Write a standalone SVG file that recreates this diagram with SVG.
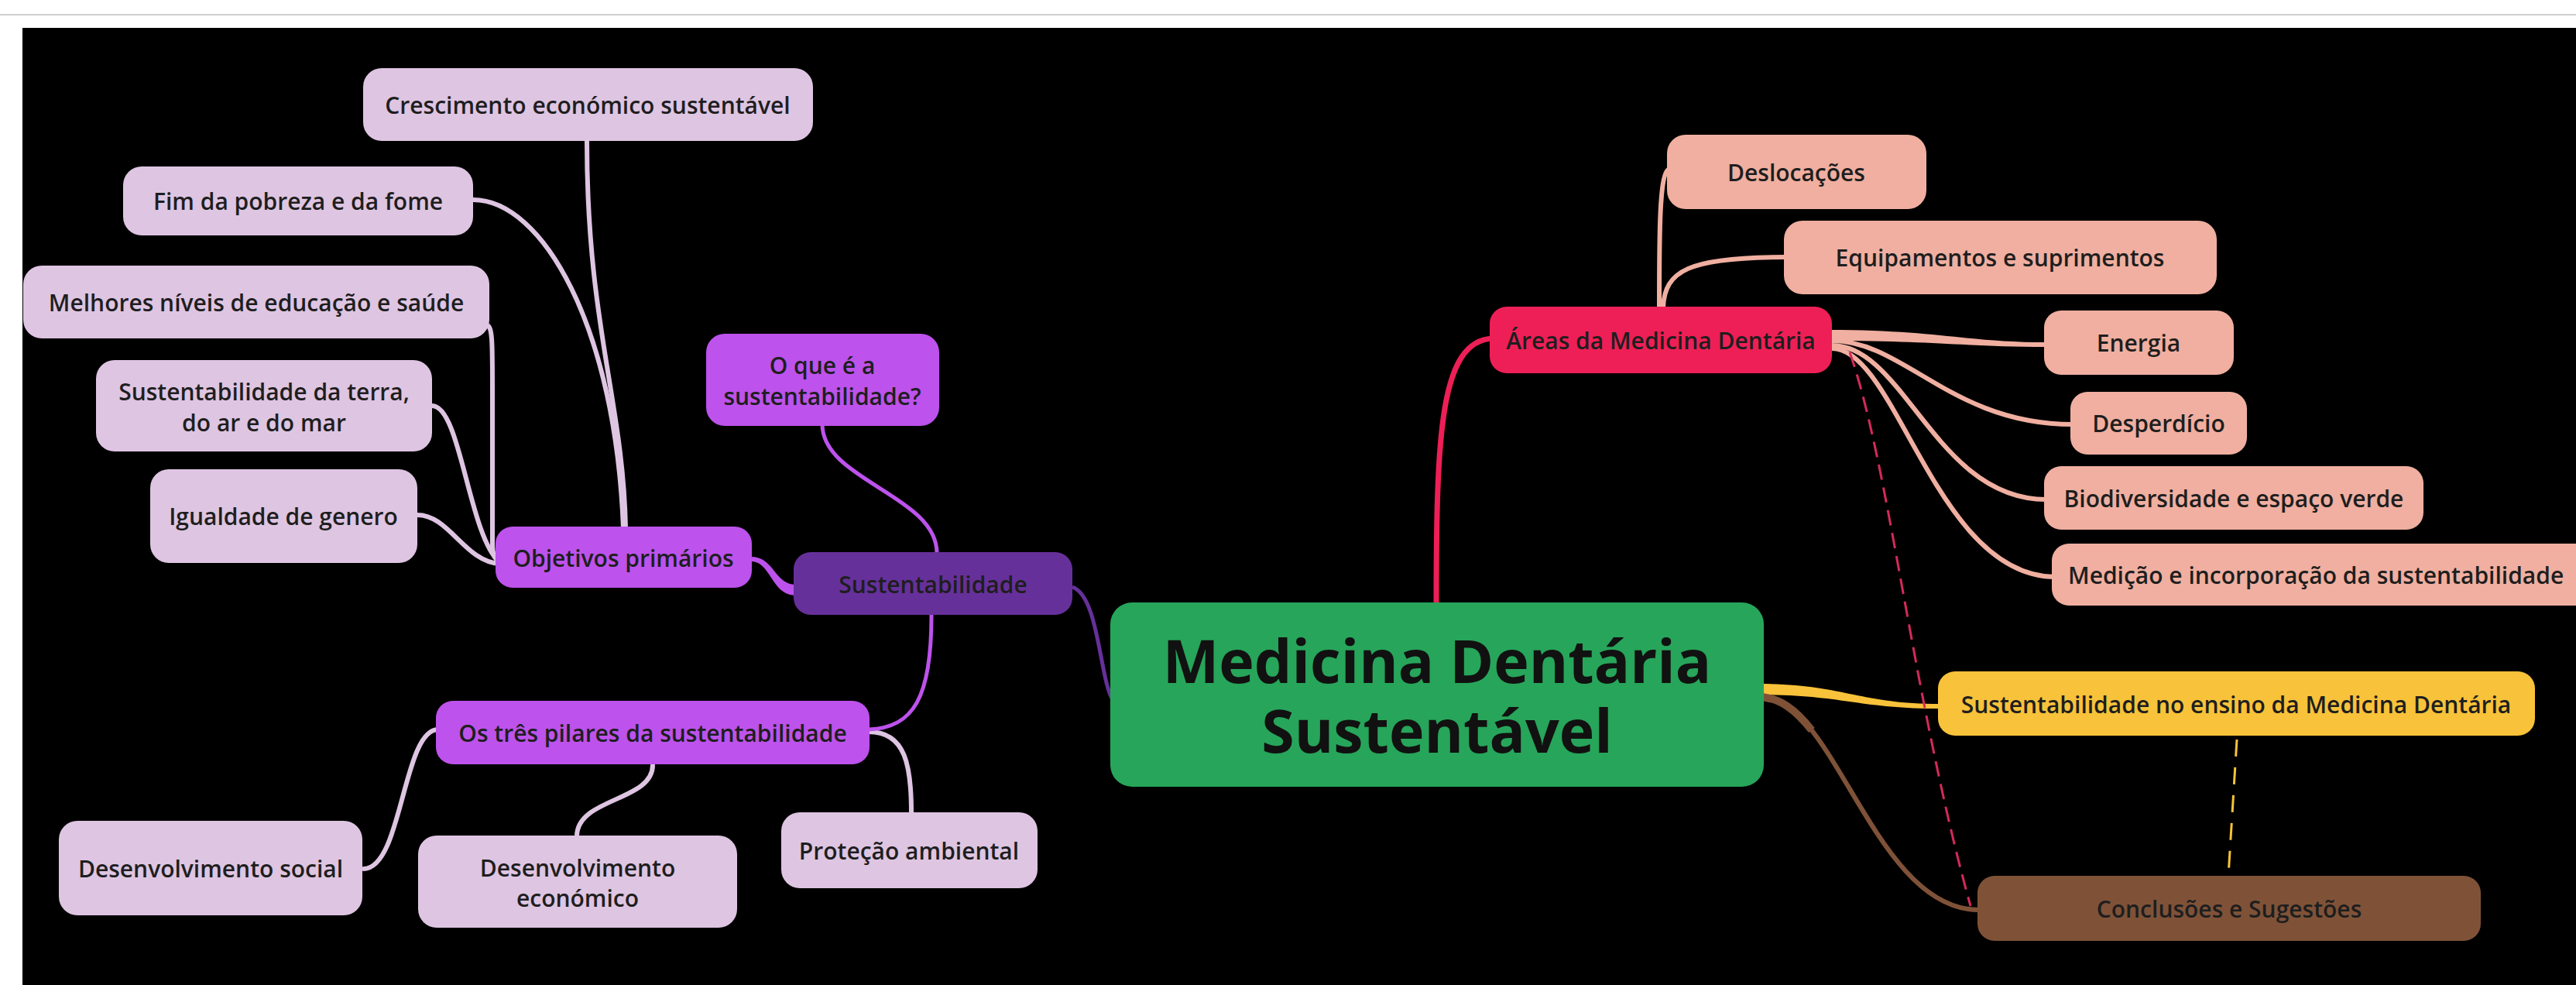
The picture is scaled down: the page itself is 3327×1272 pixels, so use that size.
<svg xmlns="http://www.w3.org/2000/svg" width="3327" height="1272" viewBox="0 0 3327 1272">
<defs>
<style>
.t{font-family:"Open Sans","Noto Sans","Liberation Sans",sans-serif;font-weight:600;font-size:30px;fill:#1e1e1e;text-anchor:middle;dominant-baseline:central}
.title{font-family:"Open Sans","Noto Sans","Liberation Sans",sans-serif;font-weight:700;font-size:77px;fill:#111;text-anchor:middle}
.lilac{fill:#dec5e2}
.purple{fill:#bd52ec}
.dpurple{fill:#66309a}
.green{fill:#27a55a}
.red{fill:#ee1f56}
.salmon{fill:#f0afa0}
.yellow{fill:#f8c23a}
.brown{fill:#7f5238}
.cl{fill:none;stroke:#dec5e2;stroke-width:6;stroke-linecap:round}
.cs{fill:none;stroke:#f0afa0;stroke-width:6;stroke-linecap:round}
.cp{fill:none;stroke:#bd52ec;stroke-width:5;stroke-linecap:round}
</style>
</defs>
<rect x="0" y="0" width="3327" height="1272" fill="#ffffff"/>
<line x1="0" y1="19" x2="3327" y2="19" stroke="#cfcfcf" stroke-width="2"/>
<rect x="29" y="36" width="3298" height="1236" fill="#000000"/>

<g id="connectors">
<!-- Objetivos children -->
<path class="cl" d="M758,182 C758,420 805,520 808,682"/>
<path class="cl" d="M611,258 C700,258 795,420 805,682"/>
<path class="cl" d="M628,420 C636,420 636,440 636,500 L636,700 C636,715 638,722 645,724"/>
<path class="cl" d="M558,524 C595,524 605,690 645,726"/>
<path class="cl" d="M539,665 C580,665 600,725 645,728"/>
<!-- Pilares children -->
<path class="cl" d="M566,942 C520,942 520,1120 470,1122"/>
<path class="cl" d="M843,988 C843,1035 745,1030 745,1080"/>
<path class="cl" d="M1122,945 C1170,945 1177,990 1177,1049"/>
<!-- Sustentabilidade children -->
<path class="cp" d="M1062,548 C1062,620 1210,640 1210,714"/>
<path class="cp" d="M1203,795 C1203,900 1180,940 1122,942"/>
<path class="purple" d="M1028,755 C1000,755 1000,719 970,719 L970,725 C996,725 996,769 1028,769 Z"/>
<path class="cp" d="M1028,762 C1000,762 1000,722 970,722"/>
<!-- Central to Sustentabilidade -->
<path fill="none" stroke="#66309a" stroke-width="5" d="M1385,758 C1420,770 1420,880 1438,905"/>
<!-- Central to Areas -->
<path fill="none" stroke="#ee1f56" stroke-width="7" d="M1855,782 C1855,560 1860,440 1928,437"/>
<!-- Areas children -->
<path class="cs" d="M2143,398 C2143,300 2143,222 2156,218"/>
<path class="cs" d="M2148,397 C2150,350 2180,332 2305,332"/>
<path class="salmon" d="M2362,426 C2500,426 2540,442 2643,442 L2643,448 C2540,448 2500,440 2362,440 Z"/>
<path class="cs" d="M2366,440 C2460,440 2520,548 2677,548"/>
<path class="cs" d="M2366,446 C2460,446 2500,645 2643,645"/>
<path class="cs" d="M2366,450 C2450,450 2500,745 2655,745"/>
<!-- Central to ensino -->
<path class="yellow" d="M2270,883 C2380,883 2400,909 2505,909 L2505,915 C2400,915 2380,897 2270,897 Z"/>
<!-- Central to conclusoes -->
<path fill="none" stroke="#7f5238" stroke-width="6" d="M2275,900 C2370,900 2420,1175 2556,1175"/>
<path fill="none" stroke="#7f5238" stroke-width="10" d="M2270,900 C2298.75,900 2319.7,917.2 2339.9,943"/>
<!-- dashed relations -->
<path fill="none" stroke="#d42a5a" stroke-width="3" stroke-dasharray="20 10" d="M2389,455 C2440,600 2470,900 2545,1170"/>
<path fill="none" stroke="#f8c23a" stroke-width="3" stroke-dasharray="22 14" d="M2889,955 L2878,1131"/>
</g>

<g id="n-crescimento"><rect class="lilac" x="469" y="88" width="581" height="94" rx="24"/><text class="t" x="759" y="135">Crescimento económico sustentável</text></g>
<g id="n-pobreza"><rect class="lilac" x="159" y="215" width="452" height="89" rx="24"/><text class="t" x="385" y="259">Fim da pobreza e da fome</text></g>
<g id="n-melhores"><rect class="lilac" x="30" y="343" width="602" height="94" rx="24"/><text class="t" x="331" y="390">Melhores níveis de educação e saúde</text></g>
<g id="n-terra"><rect class="lilac" x="124" y="465" width="434" height="118" rx="24"/><text class="t" x="341" y="505">Sustentabilidade da terra,</text><text class="t" x="341" y="545">do ar e do mar</text></g>
<g id="n-igualdade"><rect class="lilac" x="194" y="606" width="345" height="121" rx="24"/><text class="t" x="366" y="666">Igualdade de genero</text></g>
<g id="n-objetivos"><rect class="purple" x="640" y="680" width="331" height="79" rx="22"/><text class="t" x="805" y="720">Objetivos primários</text></g>
<g id="n-oque"><rect class="purple" x="912" y="431" width="301" height="119" rx="24"/><text class="t" x="1062" y="471">O que é a</text><text class="t" x="1062" y="511">sustentabilidade?</text></g>
<g id="n-sust"><rect class="dpurple" x="1025" y="713" width="360" height="81" rx="22"/><text class="t" x="1205" y="754">Sustentabilidade</text></g>
<g id="n-pilares"><rect class="purple" x="563" y="905" width="560" height="82" rx="22"/><text class="t" x="843" y="946">Os três pilares da sustentabilidade</text></g>
<g id="n-social"><rect class="lilac" x="76" y="1060" width="392" height="122" rx="24"/><text class="t" x="272" y="1121">Desenvolvimento social</text></g>
<g id="n-economico"><rect class="lilac" x="540" y="1079" width="412" height="119" rx="24"/><text class="t" x="746" y="1120">Desenvolvimento</text><text class="t" x="746" y="1159">económico</text></g>
<g id="n-protecao"><rect class="lilac" x="1009" y="1049" width="331" height="98" rx="24"/><text class="t" x="1174" y="1098">Proteção ambiental</text></g>

<g id="n-central"><rect class="green" x="1434" y="778" width="844" height="238" rx="28"/><text class="title"><tspan x="1856" y="882">Medicina Dentária</tspan><tspan x="1856" y="972">Sustentável</tspan></text></g>

<g id="n-areas"><rect class="red" x="1924" y="396" width="442" height="86" rx="22"/><text class="t" x="2145" y="439">Áreas da Medicina Dentária</text></g>
<g id="n-desloc"><rect class="salmon" x="2153" y="174" width="335" height="96" rx="24"/><text class="t" x="2320" y="222">Deslocações</text></g>
<g id="n-equip"><rect class="salmon" x="2304" y="285" width="559" height="95" rx="24"/><text class="t" x="2583" y="332">Equipamentos e suprimentos</text></g>
<g id="n-energia"><rect class="salmon" x="2640" y="401" width="245" height="83" rx="22"/><text class="t" x="2762" y="442">Energia</text></g>
<g id="n-desperd"><rect class="salmon" x="2674" y="506" width="228" height="81" rx="22"/><text class="t" x="2788" y="546">Desperdício</text></g>
<g id="n-bio"><rect class="salmon" x="2640" y="602" width="490" height="82" rx="22"/><text class="t" x="2885" y="643">Biodiversidade e espaço verde</text></g>
<g id="n-medicao"><rect class="salmon" x="2650" y="702" width="720" height="80" rx="22"/><text class="t" x="2671" y="742" style="text-anchor:start">Medição e incorporação da sustentabilidade</text></g>
<g id="n-ensino"><rect class="yellow" x="2503" y="867" width="771" height="83" rx="22"/><text class="t" x="2888" y="909">Sustentabilidade no ensino da Medicina Dentária</text></g>
<g id="n-conclusoes"><rect class="brown" x="2554" y="1131" width="650" height="84" rx="22"/><text class="t" x="2879" y="1173">Conclusões e Sugestões</text></g>
</svg>
